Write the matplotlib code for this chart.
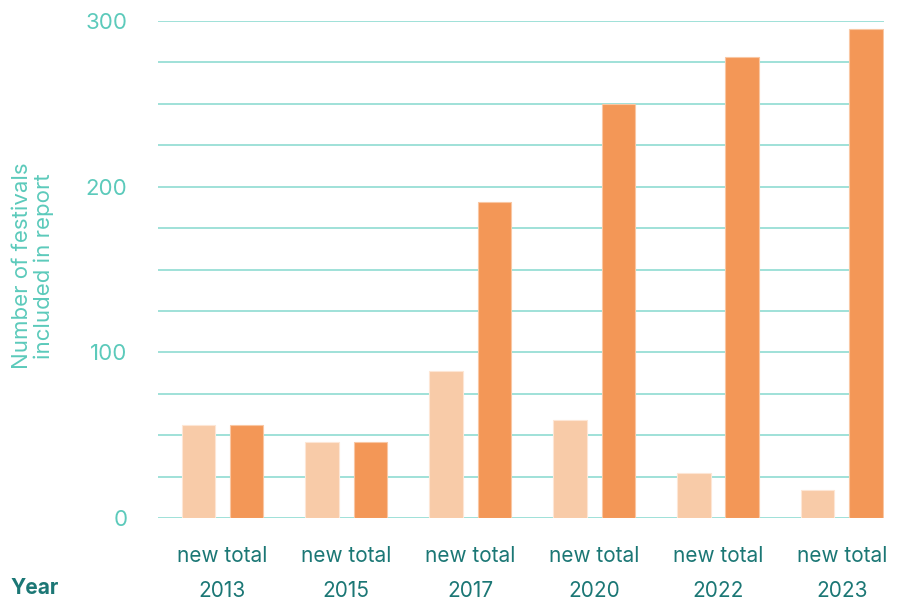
import matplotlib.pyplot as plt
import numpy as np

years = ['2013', '2015', '2017', '2020', '2022', '2023']
new_festivals = [56, 46, 89, 59, 27, 17]
total_festivals = [56, 46, 191, 250, 278, 295]

plt.rcParams['font.family'] = ['Inter', 'DejaVu Sans']

LIGHT = '#f8cba8'
DARK = '#f39757'
GRID = '#8fdcd2'
TEAL = '#5ccabb'
DEEP = '#1b7775'

fig = plt.figure(figsize=(8.98, 6.04), dpi=100)
ax = fig.add_axes([158 / 898, 1 - 518 / 604, (884 - 158) / 898, (518 - 21) / 604])

x = np.arange(len(years))
w = 0.27
off = 0.195
ax.bar(x - off, new_festivals, w, color=LIGHT, edgecolor='#fde6d5', linewidth=0.8, zorder=3)
ax.bar(x + off, total_festivals, w, color=DARK, edgecolor='#f9c7a3', linewidth=0.8, zorder=3)

ax.set_ylim(0, 300)
ax.set_xlim(-0.52, len(years) - 1 + 0.34)
ax.set_yticks(np.arange(0, 301, 25))
ax.set_yticklabels([str(v) if v % 100 == 0 else '' for v in range(0, 301, 25)])
ax.grid(axis='y', color=GRID, linewidth=1.2, zorder=0)
ax.set_axisbelow(True)
for s in ax.spines.values():
    s.set_visible(False)
ax.tick_params(axis='y', length=0, pad=22, labelsize=16, labelcolor=TEAL)

ax.set_xticks(x)
ax.set_xticklabels(['new total\n' + y for y in years], linespacing=1.95)
ax.tick_params(axis='x', length=0, pad=20, labelsize=15, labelcolor=DEEP)

fig.text(10 / 898, 1 - 588 / 604, 'Year', fontsize=15, fontweight='bold',
         color=DEEP, ha='left', va='center')
fig.text(33 / 898, 1 - 266 / 604, 'Number of festivals\nincluded in report',
         fontsize=16, color=TEAL, rotation=90, ha='center', va='center',
         linespacing=1.05, multialignment='center')

fig.savefig('out.png', dpi=100)
